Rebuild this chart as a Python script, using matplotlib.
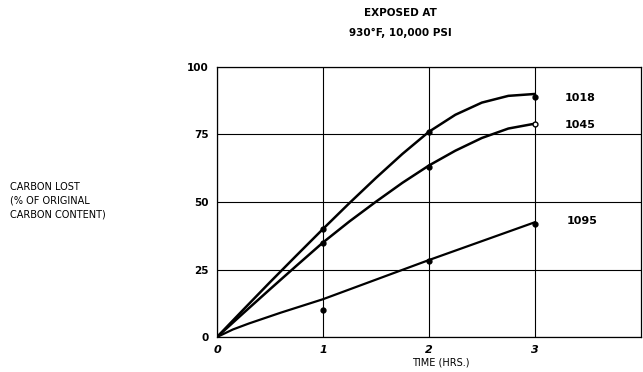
import matplotlib.pyplot as plt

# measured points
hours = [0, 1, 2, 3]
pts_1018 = [0, 40, 76, 89]
pts_1045 = [0, 35, 63, 79]
pts_1095 = [0, 10, 28, 42]

# faired curves as drawn (every quarter hour)
curve_x = [0, 0.25, 0.5, 0.75, 1, 1.25, 1.5, 1.75, 2, 2.25, 2.5, 2.75, 3]
curve_1018 = [0, 10.2, 20.3, 30.2, 40, 49.6, 58.9, 67.8, 76, 82.3, 86.8, 89.3, 90]
curve_1045 = [0, 8.9, 17.7, 26.4, 35, 42.8, 50.1, 57.1, 63.5, 69, 73.7, 77.2, 79]
line_1095_x = [0, 0.15, 0.3, 0.6, 1, 2, 3]
line_1095 = [0, 2.8, 5, 9, 14, 28.5, 42.5]

steels = ["1018", "1045", "1095"]
label_pos = [(3.28, 88.5), (3.28, 78.5), (3.3, 43)]

plt.rcParams['font.family'] = 'DejaVu Sans'
fig = plt.figure(figsize=(6.43, 3.72), dpi=100)
ax = fig.add_axes([0.3375, 0.094, 0.659, 0.726])

ax.plot(curve_x, curve_1018, color="black", lw=1.8)
ax.plot(curve_x, curve_1045, color="black", lw=1.8)
ax.plot(line_1095_x, line_1095, color="black", lw=1.6)

ax.plot(hours[1:], pts_1018[1:], "o", color="black", ms=3.5)
ax.plot(hours[1:3], pts_1045[1:3], "o", color="black", ms=3.5)
ax.plot(hours[3], pts_1045[3], "o", mfc="white", mec="black", ms=3.5)
ax.plot(hours[1:], pts_1095[1:], "o", color="black", ms=3.5)

for name, (lx, ly) in zip(steels, label_pos):
    ax.text(lx, ly, name, fontsize=8, fontweight="bold", va="center")

ax.set_xlim(0, 4)
ax.set_ylim(0, 100)
ax.set_xticks([0, 1, 2, 3])
ax.set_xticklabels(["0", "1", "2", "3"], fontsize=8, fontweight="bold", fontstyle="italic")
ax.set_yticks([0, 25, 50, 75, 100])
ax.set_yticklabels(["0", "25", "50", "75", "100"], fontsize=7.5, fontweight="bold")
ax.tick_params(length=0, pad=6)
ax.grid(True, color="black", lw=0.8)
for s in ax.spines.values():
    s.set_linewidth(0.9)

fig.text(0.623, 0.965, "EXPOSED AT", ha="center", va="center", fontsize=7.5, fontweight="bold")
fig.text(0.623, 0.912, "930°F, 10,000 PSI", ha="center", va="center", fontsize=7.5, fontweight="bold")
fig.text(0.015, 0.46, "CARBON LOST\n(% OF ORIGINAL\nCARBON CONTENT)", ha="left", va="center",
         fontsize=7, linespacing=1.45)
fig.text(0.685, 0.013, "TIME (HRS.)", ha="center", va="bottom", fontsize=7)

fig.savefig("out.png", dpi=100)
